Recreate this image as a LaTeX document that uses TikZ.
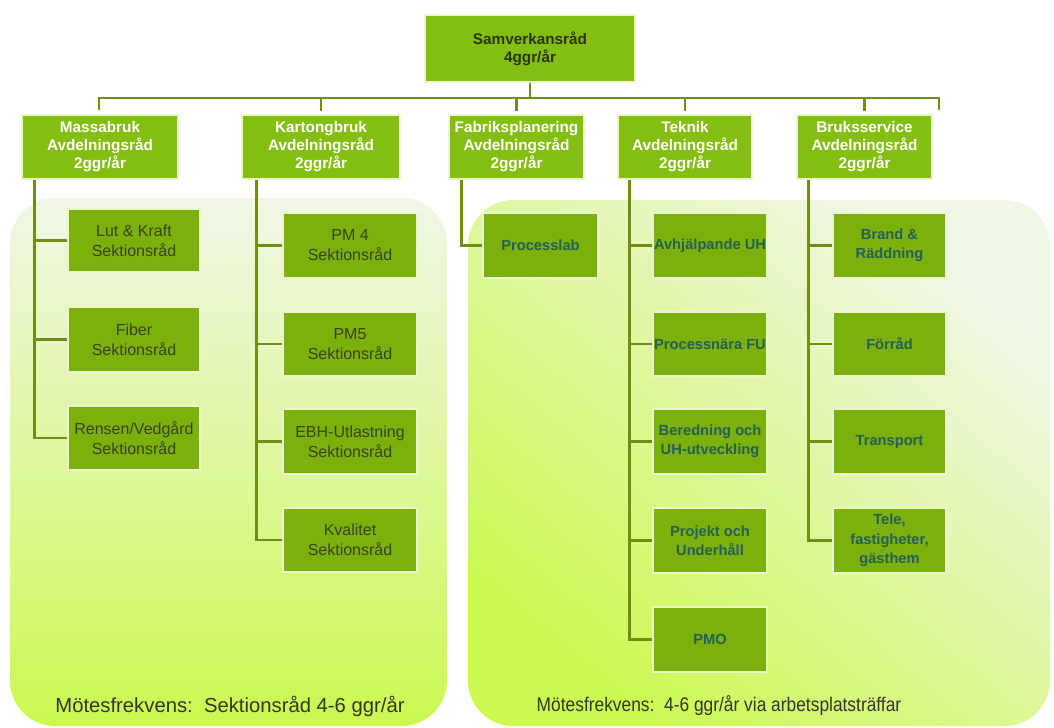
\documentclass[tikz,border=0pt]{standalone}
\usepackage{fontspec}
\setmainfont{Liberation Sans}
\usetikzlibrary{calc}
\definecolor{boxgreen}{RGB}{132,190,16}
\definecolor{childgreen}{RGB}{124,176,10}
\definecolor{conncol}{RGB}{112,142,22}
\definecolor{boxedge}{RGB}{236,246,205}
\definecolor{darktext}{RGB}{42,52,10}
\definecolor{childtext}{RGB}{58,68,28}
\definecolor{tealtext}{RGB}{36,96,84}
\definecolor{panellight}{RGB}{240,247,232}
\definecolor{panellime}{RGB}{204,248,80}
\definecolor{captext}{RGB}{50,55,40}
\newcommand\orgbox[7]{\node[#1, minimum width={(#5-#3)*0.75pt}, minimum height={(#6-#4)*0.75pt}] (#2) at ({(#3+#5)/2},{(#4+#6)/2}) {#7};}
\tikzset{
  basebox/.style={rectangle, inner sep=0pt, align=center, draw=boxedge, line width=1.3pt},
  topbox/.style={basebox, fill=boxgreen, text=darktext, font=\fontsize{11.5}{13.5}\selectfont\bfseries},
  deptbox/.style={basebox, fill=boxgreen, text=white, font=\fontsize{11.5}{13.5}\selectfont\bfseries},
  secbox/.style={basebox, fill=childgreen, text=childtext, font=\fontsize{12}{15}\selectfont},
  unitbox/.style={basebox, fill=childgreen, text=tealtext, font=\fontsize{11}{14.5}\selectfont\bfseries},
  conn/.style={draw=conncol, line width=2.2pt},
  caption/.style={text=captext, inner sep=0pt}
}
\begin{document}
\begin{tikzpicture}[x=0.75pt,y=-0.75pt]
\useasboundingbox (0,0) rectangle (1054,728);
% background panels
\shade[rounded corners=34pt, top color=panellight, bottom color=panellime, shading angle=0]
  (10,198) rectangle (447,726);
\shade[rounded corners=34pt, top color=panellight, bottom color=panellime, shading angle=-40]
  (468,200) rectangle (1050,726);
% top
\orgbox{topbox}{top}{425}{15}{635}{82}{Samverkansråd\\4ggr/år}
% departments
\orgbox{deptbox}{mass}{22}{115}{178}{179}{Massabruk\\Avdelningsråd\\2ggr/år}
\orgbox{deptbox}{kart}{242}{115}{400}{179}{Kartongbruk\\Avdelningsråd\\2ggr/år}
\orgbox{deptbox}{fabr}{449}{115}{584}{179}{Fabriksplanering\\Avdelningsråd\\2ggr/år}
\orgbox{deptbox}{tekn}{618}{115}{752}{179}{Teknik\\Avdelningsråd\\2ggr/år}
\orgbox{deptbox}{bruk}{797}{115}{932}{179}{Bruksservice\\Avdelningsråd\\2ggr/år}
% Massabruk children
\orgbox{secbox}{lut}{68}{209}{200}{272}{Lut \& Kraft\\Sektionsråd}
\orgbox{secbox}{fib}{68}{307}{200}{372}{Fiber\\Sektionsråd}
\orgbox{secbox}{rens}{68}{406}{200}{470}{Rensen/Vedgård\\Sektionsråd}
% Kartongbruk children
\orgbox{secbox}{pm4}{283}{213}{417}{278}{PM 4\\Sektionsråd}
\orgbox{secbox}{pm5}{283}{312}{417}{376}{PM5\\Sektionsråd}
\orgbox{secbox}{ebh}{283}{409}{417}{474}{EBH-Utlastning\\Sektionsråd}
\orgbox{secbox}{kval}{283}{508}{417}{572}{Kvalitet\\Sektionsråd}
% Fabriksplanering child
\orgbox{unitbox}{plab}{483}{213}{598}{278}{Processlab}
% Teknik children
\orgbox{unitbox}{avhj}{653}{213}{767}{278}{Avhjälpande UH}
\orgbox{unitbox}{pfu}{653}{312}{767}{376}{Processnära FU}
\orgbox{unitbox}{bered}{653}{409}{767}{474}{Beredning och\\UH-utveckling}
\orgbox{unitbox}{proj}{653}{508}{767}{573}{Projekt och\\Underhåll}
\orgbox{unitbox}{pmo}{653}{607}{767}{672}{PMO}
% Bruksservice children
\orgbox{unitbox}{brand}{833}{213}{946}{278}{Brand \&\\Räddning}
\orgbox{unitbox}{forr}{833}{312}{946}{376}{Förråd}
\orgbox{unitbox}{trans}{833}{409}{946}{474}{Transport}
\orgbox{unitbox}{tele}{833}{508}{946}{573}{Tele,\\fastigheter,\\gästhem}
% top bar
\coordinate (barL) at (99,98);
\coordinate (barR) at (939,98);
\coordinate (barLd) at (99,110);
\coordinate (barRd) at (939,110);
\draw[conn] (barLd) -- (barL) -- (barR) -- (barRd);
\draw[conn] (top.south) -- (top.south |- barL);
\draw[conn] (kart.north |- barL) -- ([yshift=2pt]kart.north);
\draw[conn] (fabr.north |- barL) -- ([yshift=2pt]fabr.north);
\draw[conn] (tekn.north |- barL) -- ([yshift=2pt]tekn.north);
\draw[conn] (bruk.north |- barL) -- ([yshift=2pt]bruk.north);
% Massabruk tree
\coordinate (mv) at ([xshift=9.75pt]mass.south west);
\draw[conn] (mv) |- (rens.west);
\draw[conn] (mv |- lut.west) -- (lut.west);
\draw[conn] (mv |- fib.west) -- (fib.west);
% Kartongbruk tree
\coordinate (kv) at ([xshift=11.25pt]kart.south west);
\draw[conn] (kv) |- (kval.west);
\draw[conn] (kv |- pm4.west) -- (pm4.west);
\draw[conn] (kv |- pm5.west) -- (pm5.west);
\draw[conn] (kv |- ebh.west) -- (ebh.west);
% Fabriksplanering tree
\coordinate (fv) at ([xshift=9.75pt]fabr.south west);
\draw[conn] (fv) |- (plab.west);
% Teknik tree
\coordinate (tv) at ([xshift=9pt]tekn.south west);
\draw[conn] (tv) |- (pmo.west);
\draw[conn] (tv |- avhj.west) -- (avhj.west);
\draw[conn] (tv |- pfu.west) -- (pfu.west);
\draw[conn] (tv |- bered.west) -- (bered.west);
\draw[conn] (tv |- proj.west) -- (proj.west);
% Bruksservice tree
\coordinate (bv) at ([xshift=9pt]bruk.south west);
\draw[conn] (bv) |- (tele.west);
\draw[conn] (bv |- brand.west) -- (brand.west);
\draw[conn] (bv |- forr.west) -- (forr.west);
\draw[conn] (bv |- trans.west) -- (trans.west);
% captions
\node[caption, font=\fontsize{15.2}{17}\selectfont] (capL) at (230,706) {Mötesfrekvens:\ \ Sektionsråd 4-6 ggr/år};
\node[caption, font=\fontsize{14.8}{17}\selectfont, xscale=0.88, transform shape] (capR) at (719,706) {Mötesfrekvens:\ \ 4-6 ggr/år via arbetsplatsträffar};
\end{tikzpicture}
\end{document}
